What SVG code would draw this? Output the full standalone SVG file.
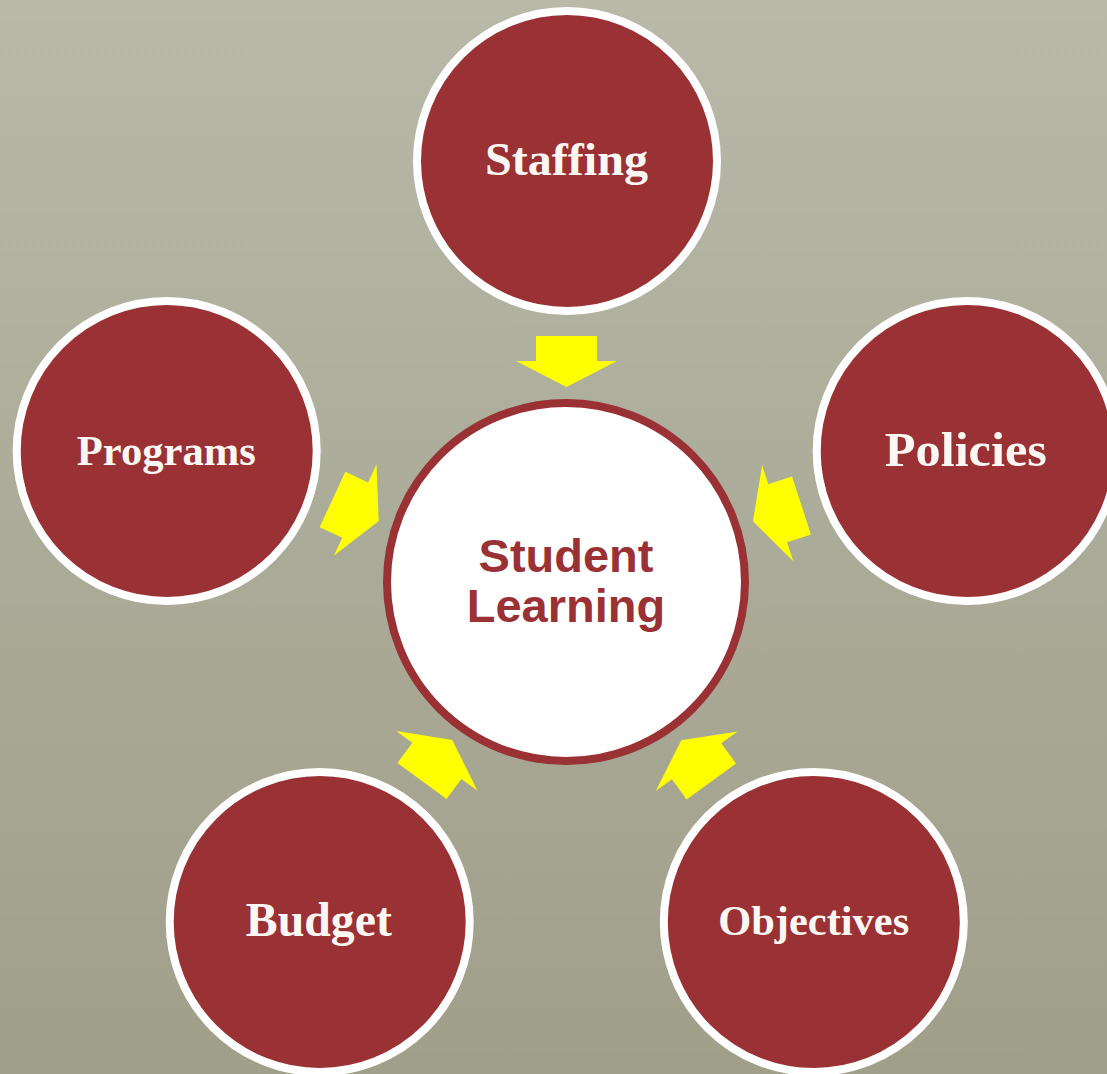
<svg xmlns="http://www.w3.org/2000/svg" width="1107" height="1074" viewBox="0 0 1107 1074">
  <defs>
    <linearGradient id="bg" x1="0" y1="0" x2="0" y2="1">
      <stop offset="0" stop-color="#b8b9a9"/>
      <stop offset="0.5" stop-color="#abab99"/>
      <stop offset="1" stop-color="#9f9f8a"/>
    </linearGradient>
    <polygon id="arrow" points="0,-30.5 25,-30.5 25,-50.5 51,0 25,50.5 25,30.5 0,30.5"/>
    <style>
      .outer { fill: #9a3134; stroke: #ffffff; stroke-width: 8; }
      .center { fill: #ffffff; stroke: #9a3134; stroke-width: 8; }
      .lbl { font-family: "Liberation Serif", "Times New Roman", serif; font-weight: bold; fill: #fbf8f3; text-anchor: middle; }
      .ctr { font-family: "Liberation Sans", Arial, sans-serif; font-weight: bold; font-size: 47px; fill: #9a3134; text-anchor: middle; }
      .arr { fill: #ffff00; }
    </style>
  </defs>
  <rect x="0" y="0" width="1107" height="1074" fill="url(#bg)"/>

  <g id="connectors">
    <use href="#arrow" class="arr" transform="translate(566.5,336) rotate(90)"/>
    <use href="#arrow" class="arr" transform="translate(332.5,499.5) rotate(25)"/>
    <use href="#arrow" class="arr" transform="translate(801.5,505.5) rotate(162)"/>
    <use href="#arrow" class="arr" transform="translate(422,781) rotate(-53.6)"/>
    <use href="#arrow" class="arr" transform="translate(711.3,781.5) rotate(-126)"/>
  </g>

  <g id="staffing">
    <circle class="outer" cx="567" cy="161" r="150"/>
    <text class="lbl" x="566.5" y="175" font-size="46" textLength="163" lengthAdjust="spacingAndGlyphs">Staffing</text>
  </g>
  <g id="programs">
    <circle class="outer" cx="166.7" cy="451" r="150"/>
    <text class="lbl" x="166.3" y="465" font-size="42" textLength="179" lengthAdjust="spacingAndGlyphs">Programs</text>
  </g>
  <g id="policies">
    <circle class="outer" cx="966.7" cy="451" r="150"/>
    <text class="lbl" x="965.8" y="466" font-size="48" textLength="162" lengthAdjust="spacingAndGlyphs">Policies</text>
  </g>
  <g id="budget">
    <circle class="outer" cx="319.7" cy="922" r="150"/>
    <text class="lbl" x="318.8" y="936" font-size="48" textLength="146" lengthAdjust="spacingAndGlyphs">Budget</text>
  </g>
  <g id="objectives">
    <circle class="outer" cx="813.8" cy="922" r="150"/>
    <text class="lbl" x="813.7" y="935" font-size="43" textLength="191" lengthAdjust="spacingAndGlyphs">Objectives</text>
  </g>
  <g id="student-learning">
    <circle class="center" cx="566" cy="582" r="179"/>
    <text class="ctr" x="566" y="572">Student</text>
    <text class="ctr" x="566" y="622">Learning</text>
  </g>
</svg>
